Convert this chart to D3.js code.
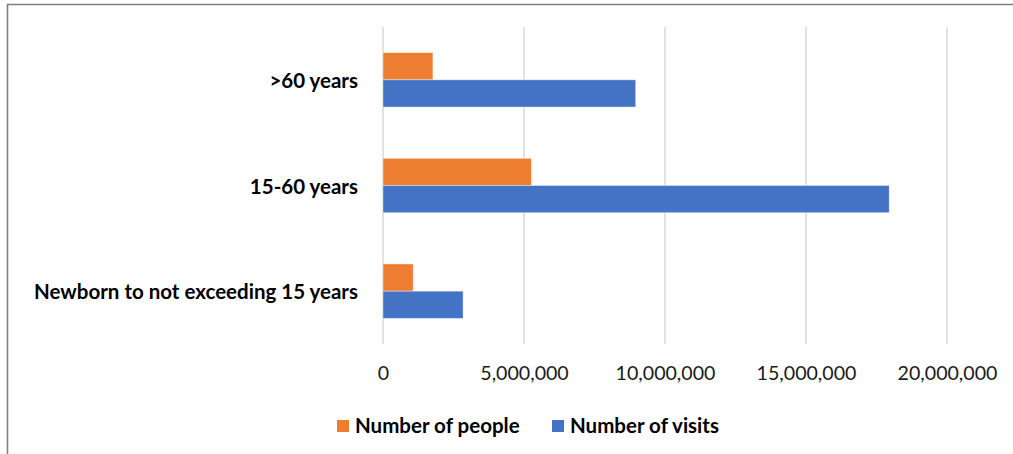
<!DOCTYPE html>
<html>
<head>
<meta charset="utf-8">
<script src="https://cdn.jsdelivr.net/npm/d3@7"></script>
<style>
  body { margin: 0; background: #fff; }
  svg { display: block; }
</style>
</head>
<body>
<svg id="chart" width="1013" height="454"></svg>
<script>
// categories, top to bottom as drawn
var categories = [">60 years", "15-60 years", "Newborn to not exceeding 15 years"];
var seriesNames = ["Number of people", "Number of visits"];
var people = [1770000, 5260000, 1070000];
var visits = [8960000, 17950000, 2840000];
var xTicks = [0, 5000000, 10000000, 15000000, 20000000];

var colors = { "Number of people": "#ED7D31", "Number of visits": "#4472C4" };

var svg = d3.select("#chart");
var width = 1013, height = 454;

var margin = { top: 27, right: 66, bottom: 110, left: 383 };
var plotW = 947 - margin.left,
    plotH = 344 - margin.top;

// frame around the whole picture (right/bottom fall outside)
svg.append("path")
    .attr("d", "M7.5," + height + " L7.5,4.5 L" + width + ",4.5")
    .attr("fill", "none")
    .attr("stroke", "#7f7f7f")
    .attr("stroke-width", 1.6);

var g = svg.append("g")
    .attr("transform", "translate(" + margin.left + "," + margin.top + ")");

var x = d3.scaleLinear()
    .domain([0, 20000000])
    .range([0, plotW]);

var y = d3.scaleBand()
    .domain(categories)
    .range([0, plotH])
    .paddingInner(0.485)
    .paddingOuter(0.2425);

var y1 = d3.scaleBand()
    .domain(seriesNames)
    .range([0, y.bandwidth()]);

// gridlines
g.selectAll(".grid")
    .data(xTicks)
    .enter().append("line")
    .attr("class", "grid")
    .attr("x1", function(d) { return x(d); })
    .attr("x2", function(d) { return x(d); })
    .attr("y1", 0)
    .attr("y2", plotH)
    .attr("stroke", "#d9d9d9")
    .attr("stroke-width", 1.5);

var rows = categories.map(function(c, i) {
    return { cat: c, values: [
        { name: "Number of people", v: people[i] },
        { name: "Number of visits", v: visits[i] }
    ]};
});

var groups = g.selectAll(".cat")
    .data(rows)
    .enter().append("g")
    .attr("class", "cat")
    .attr("transform", function(d) { return "translate(0," + y(d.cat) + ")"; });

groups.selectAll("rect")
    .data(function(d) { return d.values; })
    .enter().append("rect")
    .attr("x", x(0))
    .attr("y", function(d) { return y1(d.name); })
    .attr("width", function(d) { return x(d.v) - x(0); })
    .attr("height", y1.bandwidth())
    .attr("fill", function(d) { return colors[d.name]; })
    .attr("stroke", "#fff")
    .attr("stroke-opacity", 0.5)
    .attr("stroke-width", 0.8);

// category labels
var yAxis = g.append("g")
    .attr("transform", "translate(-25,1)")
    .call(d3.axisLeft(y).tickSize(0).tickPadding(0));
yAxis.select(".domain").remove();
yAxis.selectAll("text")
    .attr("dy", "0.35em")
    .style("font-family", "Lato, 'Noto Sans', sans-serif")
    .style("font-weight", "bold")
    .style("font-size", "20.5px")
    .style("fill", "#000");

// value axis
var xAxis = g.append("g")
    .attr("transform", "translate(0," + plotH + ")")
    .call(d3.axisBottom(x).tickValues(xTicks).tickSize(0).tickPadding(29)
        .tickFormat(d3.format(",")));
xAxis.select(".domain").remove();
xAxis.selectAll("text")
    .attr("dy", "0.35em")
    .style("font-family", "Lato, 'Noto Sans', sans-serif")
    .style("font-size", "19.6px")
    .style("fill", "#1a1a1a");

// legend
var legendX = [337, 552];
var legend = svg.selectAll(".legend")
    .data(seriesNames)
    .enter().append("g")
    .attr("class", "legend")
    .attr("transform", function(d, i) { return "translate(" + legendX[i] + ",420)"; });

legend.append("rect")
    .attr("width", 12)
    .attr("height", 12)
    .attr("fill", function(d) { return colors[d]; });

legend.append("text")
    .attr("x", 18)
    .attr("y", 6)
    .attr("dy", "0.35em")
    .style("font-family", "Lato, 'Noto Sans', sans-serif")
    .style("font-weight", "bold")
    .style("font-size", "20.5px")
    .style("fill", "#000")
    .text(function(d) { return d; });
</script>
</body>
</html>
